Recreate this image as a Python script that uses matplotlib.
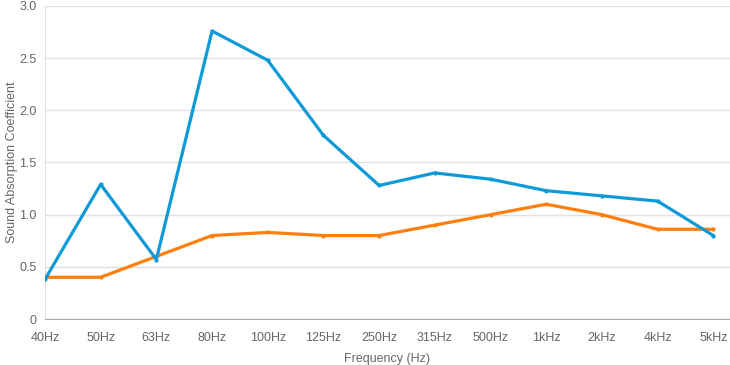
import matplotlib.pyplot as plt

# data
freqs = ['40Hz', '50Hz', '63Hz', '80Hz', '100Hz', '125Hz', '250Hz',
         '315Hz', '500Hz', '1kHz', '2kHz', '4kHz', '5kHz']
series_a = [0.38, 1.29, 0.57, 2.76, 2.48, 1.76, 1.28, 1.40, 1.34, 1.23, 1.18, 1.13, 0.80]
series_b = [0.40, 0.40, 0.60, 0.80, 0.83, 0.80, 0.80, 0.90, 1.00, 1.10, 1.00, 0.86, 0.86]
yticks = [0, 0.5, 1.0, 1.5, 2.0, 2.5, 3.0]
ytick_labels = ['0', '0.5', '1.0', '1.5', '2.0', '2.5', '3.0']

plt.rcParams['font.family'] = ['Liberation Sans', 'DejaVu Sans']

fig = plt.figure(figsize=(7.3, 3.65), dpi=100)
ax = fig.add_axes([0.0616, 0.126, 0.9384, 0.8576])

x = range(len(freqs))
ax.plot(x, series_a, color='#0e9ad7', linewidth=2.3, marker='o', markersize=2, zorder=3)
ax.plot(x, series_b, color='#ff7f0e', linewidth=2.3, marker='o', markersize=2, zorder=2)

ax.set_xlim(0, 12.3)
ax.set_ylim(0, 3.0)
ax.set_xticks(list(x))
ax.set_xticklabels(freqs)
ax.set_yticks(yticks)
ax.set_yticklabels(ytick_labels)

ax.tick_params(axis='both', length=0, labelsize=9, colors='#666666')
ax.tick_params(axis='x', pad=9)
ax.tick_params(axis='y', pad=6)

ax.set_xlabel('Frequency (Hz)', fontsize=9, color='#666666', labelpad=7)
ax.set_ylabel('Sound Absorption Coefficient', fontsize=9, color='#666666', labelpad=1)

ax.yaxis.grid(True, color='#e0e0e0', linewidth=1)
ax.set_axisbelow(True)

for side in ['top', 'right']:
    ax.spines[side].set_visible(False)
ax.spines['left'].set_color('#e0e0e0')
ax.spines['bottom'].set_color('#aaaaaa')

fig.savefig('out.png', dpi=100, facecolor='white')
